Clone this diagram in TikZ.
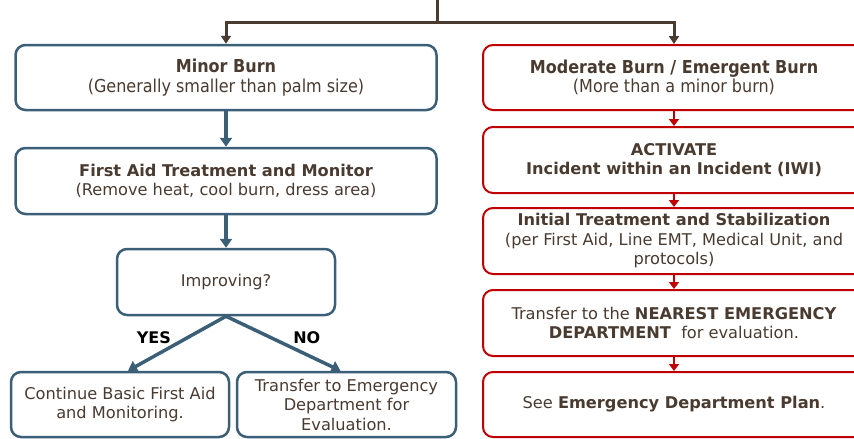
\documentclass[tikz,border=0pt]{standalone}
\usepackage{fontspec}
\setmainfont{DejaVu Sans}
\newfontfamily\condfont{DejaVu Sans Condensed}
\usetikzlibrary{arrows.meta}
\definecolor{slateblue}{RGB}{60,95,120}
\definecolor{burnred}{RGB}{192,0,0}
\definecolor{darkbrown}{RGB}{74,59,48}

\begin{document}
\begin{tikzpicture}[x=1pt,y=-1pt,
   bluebox/.style={draw=slateblue,line width=2.5pt,rounded corners=10pt,fill=white,
      text=darkbrown,align=center,inner sep=2pt,font=\fontsize{16.2}{19.5}\selectfont},
   redbox/.style={draw=burnred,line width=2pt,rounded corners=10pt,fill=white,
      text=darkbrown,align=center,inner sep=2pt,font=\fontsize{16.2}{19.5}\selectfont,
      minimum width=382pt},
   bluearrow/.style={draw=slateblue,line width=3.5pt,-{Triangle[length=9pt,width=12pt]}},
   redarrow/.style={draw=burnred,line width=2pt,-{Triangle[length=7pt,width=10pt]}},
   brownarrow/.style={draw=darkbrown,line width=3pt,-{Triangle[length=8pt,width=10pt]}},
   answer/.style={font=\fontsize{16}{19}\selectfont\bfseries,text=black}]
   \useasboundingbox (0,0) rectangle (854,439);
   % left column: minor burn
   \node[bluebox,minimum width=421pt,minimum height=65pt] (minor) at (226,77.5)
      {{\condfont\fontsize{17.8}{19.5}\selectfont\bfseries Minor Burn}\\{\condfont\fontsize{17.8}{19.5}\selectfont (Generally smaller than palm size)}};
   \node[bluebox,minimum width=421pt,minimum height=66pt] (firstaid) at (226,181)
      {\textbf{First Aid Treatment and Monitor}\\(Remove heat, cool burn, dress area)};
   \node[bluebox,minimum width=218pt,minimum height=66pt] (improving) at (226,282) {Improving?};
   \node[bluebox,minimum width=218pt,minimum height=65pt] (continue) at (120,404.5)
      {Continue Basic First Aid\\and Monitoring.};
   \node[bluebox,minimum width=219pt,minimum height=65pt] (transfer) at (346.5,404.5)
      {Transfer to Emergency\\Department for\\Evaluation.};
   % right column: moderate / emergent burn
   \node[redbox,minimum height=65pt] (moderate) at (674,77.5)
      {{\condfont\fontsize{17.8}{19.5}\selectfont\bfseries Moderate Burn / Emergent Burn}\\{\condfont\fontsize{17.8}{19.5}\selectfont (More than a minor burn)}};
   \node[redbox,minimum height=66pt] (activate) at (674,160)
      {\textbf{ACTIVATE}\\\textbf{Incident within an Incident (IWI)}};
   \node[redbox,minimum height=66pt] (initial) at (674,241)
      {\textbf{Initial Treatment and Stabilization}\\(per First Aid, Line EMT, Medical Unit, and\\protocols)};
   \node[redbox,minimum height=66pt] (nearest) at (674,323)
      {Transfer to the \textbf{NEAREST EMERGENCY}\\\textbf{DEPARTMENT}\ \ for evaluation.};
   \node[redbox,minimum height=65pt] (edplan) at (674,404.5)
      {See \textbf{Emergency Department Plan}.};
   % split at the top
   \coordinate (top) at (437,0);
   \coordinate (split) at (437,22);
   \draw[brownarrow] (top) -- (split) -| (minor.north);
   \draw[brownarrow] (split) -| (moderate.north);
   % connectors
   \draw[bluearrow] (improving.south) -- node[answer,above left=1pt,yshift=-6pt] {YES} ([xshift=8pt]continue.north);
   \draw[bluearrow] (improving.south) -- node[answer,above right=1pt,xshift=4pt,yshift=-6pt] {NO} ([xshift=-6pt]transfer.north);
   \draw[bluearrow] (minor) -- (firstaid);
   \draw[bluearrow] (firstaid) -- (improving);
   \foreach \from/\to in {moderate/activate,activate/initial,initial/nearest,nearest/edplan}
      \draw[redarrow] (\from) -- (\to);
\end{tikzpicture}
\end{document}
